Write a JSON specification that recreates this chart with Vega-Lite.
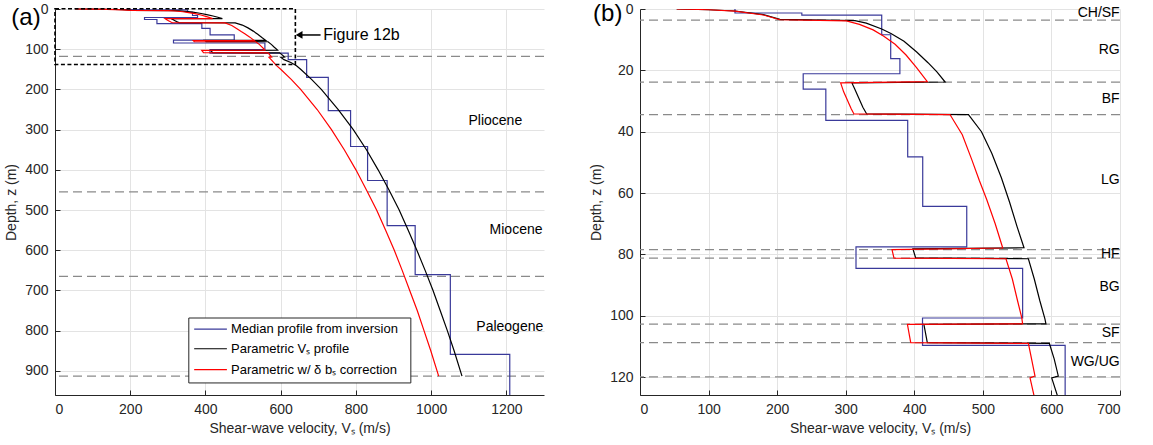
{
  "$schema": "https://vega.github.io/schema/vega-lite/v6.json",
  "padding": {"left": 4, "top": 1, "right": 5, "bottom": 5},
  "background": "white",
  "spacing": 96,
  "bounds": "flush",
  "config": {
    "view": {"stroke": null},
    "font": "Liberation Sans",
    "axis": {
      "labelFont": "Liberation Sans", "titleFont": "Liberation Sans",
      "labelFontSize": 14, "titleFontSize": 14, "titleFontWeight": "normal",
      "labelColor": "#262626", "titleColor": "#262626",
      "domainColor": "#262626", "tickColor": "#262626",
      "gridColor": "#e3e3e3", "tickSize": -5, "labelPadding": 12, "format": "d"
    },
    "axisY": {"titlePadding": 6},
    "axisX": {"titlePadding": 5}
  },
  "datasets": {
    "profiles": [
      {"s":"Median","i":1,"v":138.5,"d":0},{"s":"Median","i":2,"v":138.5,"d":1.3},{"s":"Median","i":3,"v":236,"d":1.3},{"s":"Median","i":4,"v":236,"d":2.0},
      {"s":"Median","i":5,"v":352.5,"d":2.0},{"s":"Median","i":6,"v":352.5,"d":8.4},{"s":"Median","i":7,"v":365.6,"d":8.4},{"s":"Median","i":8,"v":365.6,"d":16.2},
      {"s":"Median","i":9,"v":379,"d":16.2},{"s":"Median","i":10,"v":379,"d":21.1},{"s":"Median","i":11,"v":238,"d":21.1},{"s":"Median","i":12,"v":238,"d":26.1},
      {"s":"Median","i":13,"v":271,"d":26.1},{"s":"Median","i":14,"v":271,"d":36.3},{"s":"Median","i":15,"v":390.4,"d":36.3},{"s":"Median","i":16,"v":390.4,"d":48.2},
      {"s":"Median","i":17,"v":412.3,"d":48.2},{"s":"Median","i":18,"v":412.3,"d":64.3},{"s":"Median","i":19,"v":476.5,"d":64.3},{"s":"Median","i":20,"v":476.5,"d":77.5},
      {"s":"Median","i":21,"v":315,"d":77.5},{"s":"Median","i":22,"v":315,"d":84.5},{"s":"Median","i":23,"v":558,"d":84.5},{"s":"Median","i":24,"v":558,"d":100.7},
      {"s":"Median","i":25,"v":412,"d":100.7},{"s":"Median","i":26,"v":412,"d":109.6},{"s":"Median","i":27,"v":620,"d":109.6},{"s":"Median","i":28,"v":620,"d":126},
      {"s":"Median","i":29,"v":669,"d":126},{"s":"Median","i":30,"v":669,"d":170},{"s":"Median","i":31,"v":726.5,"d":170},{"s":"Median","i":32,"v":726.5,"d":252.6},
      {"s":"Median","i":33,"v":785.8,"d":252.6},{"s":"Median","i":34,"v":785.8,"d":342},{"s":"Median","i":35,"v":831,"d":342},{"s":"Median","i":36,"v":831,"d":426.5},
      {"s":"Median","i":37,"v":883,"d":426.5},{"s":"Median","i":38,"v":883,"d":539},{"s":"Median","i":39,"v":957.5,"d":539},{"s":"Median","i":40,"v":957.5,"d":660.5},
      {"s":"Median","i":41,"v":1051,"d":660.5},{"s":"Median","i":42,"v":1051,"d":859},{"s":"Median","i":43,"v":1209,"d":859},{"s":"Median","i":44,"v":1209,"d":960},

      {"s":"Param","i":1,"v":53.5,"d":0},{"s":"Param","i":2,"v":100,"d":0.25},{"s":"Param","i":3,"v":138.5,"d":0.65},{"s":"Param","i":4,"v":180,"d":1.86},
      {"s":"Param","i":5,"v":204,"d":3.4},{"s":"Param","i":6,"v":313.6,"d":3.8},{"s":"Param","i":7,"v":330,"d":4.6},{"s":"Param","i":8,"v":352.5,"d":6.5},
      {"s":"Param","i":9,"v":366,"d":8},{"s":"Param","i":10,"v":385,"d":10.5},{"s":"Param","i":11,"v":403.5,"d":14},{"s":"Param","i":12,"v":420,"d":17.5},
      {"s":"Param","i":13,"v":433,"d":20.5},{"s":"Param","i":14,"v":445,"d":23.8},{"s":"Param","i":15,"v":309,"d":24.1},{"s":"Param","i":16,"v":313,"d":26},
      {"s":"Param","i":17,"v":319,"d":29},{"s":"Param","i":18,"v":325,"d":32},{"s":"Param","i":19,"v":330.6,"d":34.2},{"s":"Param","i":20,"v":479,"d":34.4},
      {"s":"Param","i":21,"v":498,"d":40},{"s":"Param","i":22,"v":513,"d":47},{"s":"Param","i":23,"v":527,"d":55},{"s":"Param","i":24,"v":539,"d":63},
      {"s":"Param","i":25,"v":550,"d":71},{"s":"Param","i":26,"v":560,"d":77.8},{"s":"Param","i":27,"v":398,"d":78.2},{"s":"Param","i":28,"v":402,"d":81.1},
      {"s":"Param","i":29,"v":566.4,"d":81.4},{"s":"Param","i":30,"v":575,"d":88},{"s":"Param","i":31,"v":583,"d":95},{"s":"Param","i":32,"v":590.5,"d":101},
      {"s":"Param","i":33,"v":592,"d":102.6},{"s":"Param","i":34,"v":414,"d":102.8},{"s":"Param","i":35,"v":419,"d":108.7},{"s":"Param","i":36,"v":597,"d":109},
      {"s":"Param","i":37,"v":604,"d":114},{"s":"Param","i":38,"v":610,"d":119.6},{"s":"Param","i":39,"v":600.4,"d":120.2},{"s":"Param","i":40,"v":608.7,"d":126},
      {"s":"Param","i":41,"v":627,"d":133},{"s":"Param","i":42,"v":642,"d":141},{"s":"Param","i":43,"v":653,"d":150},{"s":"Param","i":44,"v":682,"d":175},
      {"s":"Param","i":45,"v":708,"d":200},{"s":"Param","i":46,"v":753,"d":250},{"s":"Param","i":47,"v":793,"d":300},{"s":"Param","i":48,"v":828,"d":350},
      {"s":"Param","i":49,"v":859,"d":400},{"s":"Param","i":50,"v":888,"d":450},{"s":"Param","i":51,"v":915,"d":500},{"s":"Param","i":52,"v":939,"d":550},
      {"s":"Param","i":53,"v":962,"d":600},{"s":"Param","i":54,"v":984,"d":650},{"s":"Param","i":55,"v":1005,"d":700},{"s":"Param","i":56,"v":1024,"d":750},
      {"s":"Param","i":57,"v":1043,"d":800},{"s":"Param","i":58,"v":1061,"d":850},{"s":"Param","i":59,"v":1082,"d":913},

      {"s":"Corr","i":1,"v":53.5,"d":0},{"s":"Corr","i":2,"v":100,"d":0.25},{"s":"Corr","i":3,"v":138.5,"d":0.7},{"s":"Corr","i":4,"v":180,"d":1.95},
      {"s":"Corr","i":5,"v":204,"d":3.5},{"s":"Corr","i":6,"v":301,"d":3.9},{"s":"Corr","i":7,"v":320,"d":5},{"s":"Corr","i":8,"v":340,"d":6.8},
      {"s":"Corr","i":9,"v":355,"d":8.8},{"s":"Corr","i":10,"v":372,"d":11.5},{"s":"Corr","i":11,"v":388,"d":15},{"s":"Corr","i":12,"v":403,"d":19},
      {"s":"Corr","i":13,"v":419,"d":23.7},{"s":"Corr","i":14,"v":292.6,"d":24.1},{"s":"Corr","i":15,"v":297,"d":27},{"s":"Corr","i":16,"v":303,"d":30},
      {"s":"Corr","i":17,"v":308,"d":32.5},{"s":"Corr","i":18,"v":312,"d":34.2},{"s":"Corr","i":19,"v":452,"d":34.4},{"s":"Corr","i":20,"v":470,"d":41},
      {"s":"Corr","i":21,"v":483.7,"d":49},{"s":"Corr","i":22,"v":495,"d":56},{"s":"Corr","i":23,"v":505.6,"d":62.1},{"s":"Corr","i":24,"v":518,"d":70},
      {"s":"Corr","i":25,"v":529,"d":77.9},{"s":"Corr","i":26,"v":367.5,"d":78.4},{"s":"Corr","i":27,"v":370.4,"d":81.2},{"s":"Corr","i":28,"v":533.7,"d":81.4},
      {"s":"Corr","i":29,"v":543,"d":88},{"s":"Corr","i":30,"v":550.5,"d":95},{"s":"Corr","i":31,"v":556.7,"d":100.6},{"s":"Corr","i":32,"v":558,"d":102.6},
      {"s":"Corr","i":33,"v":390,"d":102.8},{"s":"Corr","i":34,"v":394.8,"d":108.7},{"s":"Corr","i":35,"v":566.4,"d":109},{"s":"Corr","i":36,"v":571,"d":114},
      {"s":"Corr","i":37,"v":576,"d":119.6},{"s":"Corr","i":38,"v":568.8,"d":120.2},{"s":"Corr","i":39,"v":574.6,"d":126},{"s":"Corr","i":40,"v":589,"d":141},
      {"s":"Corr","i":41,"v":600,"d":150},{"s":"Corr","i":42,"v":628,"d":175},{"s":"Corr","i":43,"v":653,"d":200},{"s":"Corr","i":44,"v":697,"d":250},
      {"s":"Corr","i":45,"v":735,"d":300},{"s":"Corr","i":46,"v":769,"d":350},{"s":"Corr","i":47,"v":800,"d":400},{"s":"Corr","i":48,"v":828,"d":450},
      {"s":"Corr","i":49,"v":855,"d":500},{"s":"Corr","i":50,"v":879,"d":550},{"s":"Corr","i":51,"v":902,"d":600},{"s":"Corr","i":52,"v":923,"d":650},
      {"s":"Corr","i":53,"v":943,"d":700},{"s":"Corr","i":54,"v":963,"d":750},{"s":"Corr","i":55,"v":981,"d":800},{"s":"Corr","i":56,"v":999,"d":850},
      {"s":"Corr","i":57,"v":1020,"d":913}
    ],
    "boundsA": [{"d":118},{"d":455},{"d":665},{"d":913}],
    "boundsB": [{"d":3.6},{"d":23.8},{"d":34.4},{"d":78.4},{"d":81.2},{"d":102.7},{"d":108.7},{"d":119.9}],
    "labelsA": [{"t":"Pliocene","v":1242,"d":278},{"t":"Miocene","v":1296,"d":549},{"t":"Paleogene","v":1298,"d":791}],
    "labelsB": [{"t":"CH/SF","d":1.3},{"t":"RG","d":13.5},{"t":"BF","d":29.3},{"t":"LG","d":55.8},{"t":"HF","d":79.8},{"t":"BG","d":90.7},{"t":"SF","d":105.7},{"t":"WG/UG","d":115}],
    "legendLines": [
      {"s":"Median","v":370,"v2":457,"d":796,"t":"Median profile from inversion"},
      {"s":"Param","v":370,"v2":457,"d":845,"t":"Parametric Vₛ profile"},
      {"s":"Corr","v":370,"v2":457,"d":897,"t":"Parametric w/  δ bₛ correction"}
    ]
  },
  "hconcat": [
    {
      "width": 489, "height": 386,
      "layer": [
        {
          "data": {"name": "boundsA"},
          "mark": {"type": "rule", "color": "#8a8a8a", "strokeDash": [9, 5], "strokeWidth": 1.2},
          "encoding": {
            "y": {"field": "d", "type": "quantitative", "scale": {"domain": [0, 960], "reverse": true, "nice": false, "zero": false},
                  "axis": {"title": "Depth, z (m)", "values": [0,100,200,300,400,500,600,700,800,900], "grid": true}}
          }
        },
        {
          "data": {"name": "profiles"},
          "mark": {"type": "line", "strokeWidth": 1.2},
          "encoding": {
            "x": {"field": "v", "type": "quantitative", "scale": {"domain": [0, 1300], "nice": false, "zero": false},
                  "axis": {"title": "Shear-wave velocity, Vₛ (m/s)", "values": [0,200,400,600,800,1000,1200], "grid": true}},
            "y": {"field": "d", "type": "quantitative"},
            "order": {"field": "i", "type": "quantitative"},
            "detail": {"field": "s"},
            "color": {"field": "s", "type": "nominal", "scale": {"domain": ["Median","Param","Corr"], "range": ["#3a3a9a","#000000","#ff0000"]}, "legend": null}
          }
        },
        {
          "data": {"name": "labelsA"},
          "mark": {"type": "text", "align": "right", "baseline": "middle", "fontSize": 14, "color": "#000000"},
          "encoding": {"x": {"field": "v", "type": "quantitative"}, "y": {"field": "d", "type": "quantitative"}, "text": {"field": "t"}}
        },
        {
          "data": {"values": [{"v": 0, "v2": 639, "d": -0.5, "d2": 138}]},
          "mark": {"type": "rect", "fill": null, "fillOpacity": 0, "stroke": "#000000", "strokeWidth": 1.6, "strokeDash": [4, 2.5]},
          "encoding": {"x": {"field": "v", "type": "quantitative"}, "x2": {"field": "v2"}, "y": {"field": "d", "type": "quantitative"}, "y2": {"field": "d2"}}
        },
        {
          "data": {"values": [{"v": 650, "v2": 706, "d": 64.6}]},
          "mark": {"type": "rule", "color": "#000000", "strokeWidth": 1.5},
          "encoding": {"x": {"field": "v", "type": "quantitative"}, "x2": {"field": "v2"}, "y": {"field": "d", "type": "quantitative"}}
        },
        {
          "data": {"values": [{"v": 649, "d": 64.6}]},
          "mark": {"type": "point", "shape": "triangle-left", "filled": true, "color": "#000000", "size": 60, "opacity": 1},
          "encoding": {"x": {"field": "v", "type": "quantitative"}, "y": {"field": "d", "type": "quantitative"}}
        },
        {
          "data": {"values": [{"v": 713, "d": 64.6, "t": "Figure 12b"}]},
          "mark": {"type": "text", "align": "left", "baseline": "middle", "fontSize": 16, "color": "#000000"},
          "encoding": {"x": {"field": "v", "type": "quantitative"}, "y": {"field": "d", "type": "quantitative"}, "text": {"field": "t"}}
        },
        {
          "data": {"values": [{"v": 355.7, "v2": 946, "d": 768.5, "d2": 930}]},
          "mark": {"type": "rect", "fill": "#ffffff", "stroke": "#262626", "strokeWidth": 1},
          "encoding": {"x": {"field": "v", "type": "quantitative"}, "x2": {"field": "v2"}, "y": {"field": "d", "type": "quantitative"}, "y2": {"field": "d2"}}
        },
        {
          "data": {"name": "legendLines"},
          "mark": {"type": "rule", "strokeWidth": 1.2},
          "encoding": {
            "x": {"field": "v", "type": "quantitative"}, "x2": {"field": "v2"}, "y": {"field": "d", "type": "quantitative"},
            "color": {"field": "s", "type": "nominal", "scale": {"domain": ["Median","Param","Corr"], "range": ["#3a3a9a","#000000","#ff0000"]}, "legend": null}
          }
        },
        {
          "data": {"name": "legendLines"},
          "mark": {"type": "text", "align": "left", "baseline": "middle", "fontSize": 13, "color": "#000000"},
          "encoding": {"x": {"datum": 468, "type": "quantitative"}, "y": {"field": "d", "type": "quantitative"}, "text": {"field": "t"}}
        },
        {
          "data": {"values": [{"v": -77, "d": 22, "t": "(a)"}]},
          "mark": {"type": "text", "align": "center", "baseline": "middle", "fontSize": 24, "color": "#000000"},
          "encoding": {"x": {"field": "v", "type": "quantitative"}, "y": {"field": "d", "type": "quantitative"}, "text": {"field": "t"}}
        }
      ]
    },
    {
      "width": 480, "height": 386,
      "layer": [
        {
          "data": {"name": "boundsB"},
          "mark": {"type": "rule", "color": "#8a8a8a", "strokeDash": [9, 5], "strokeWidth": 1.2},
          "encoding": {
            "y": {"field": "d", "type": "quantitative", "scale": {"domain": [0, 125.8], "reverse": true, "nice": false, "zero": false},
                  "axis": {"title": "Depth, z (m)", "values": [0,20,40,60,80,100,120], "grid": true}}
          }
        },
        {
          "data": {"name": "profiles"},
          "mark": {"type": "line", "strokeWidth": 1.2, "clip": true},
          "encoding": {
            "x": {"field": "v", "type": "quantitative", "scale": {"domain": [0, 700], "nice": false, "zero": false},
                  "axis": {"title": "Shear-wave velocity, Vₛ (m/s)", "values": [0,100,200,300,400,500,600,700], "grid": true}},
            "y": {"field": "d", "type": "quantitative"},
            "order": {"field": "i", "type": "quantitative"},
            "detail": {"field": "s"},
            "color": {"field": "s", "type": "nominal", "scale": {"domain": ["Median","Param","Corr"], "range": ["#3a3a9a","#000000","#ff0000"]}, "legend": null}
          }
        },
        {
          "data": {"name": "labelsB"},
          "mark": {"type": "text", "align": "right", "baseline": "middle", "fontSize": 14, "color": "#000000"},
          "encoding": {"x": {"datum": 699.5, "type": "quantitative"}, "y": {"field": "d", "type": "quantitative"}, "text": {"field": "t"}}
        },
        {
          "data": {"values": [{"v": -47, "d": 1.5, "t": "(b)"}]},
          "mark": {"type": "text", "align": "center", "baseline": "middle", "fontSize": 24, "color": "#000000"},
          "encoding": {"x": {"field": "v", "type": "quantitative"}, "y": {"field": "d", "type": "quantitative"}, "text": {"field": "t"}}
        }
      ]
    }
  ]
}
